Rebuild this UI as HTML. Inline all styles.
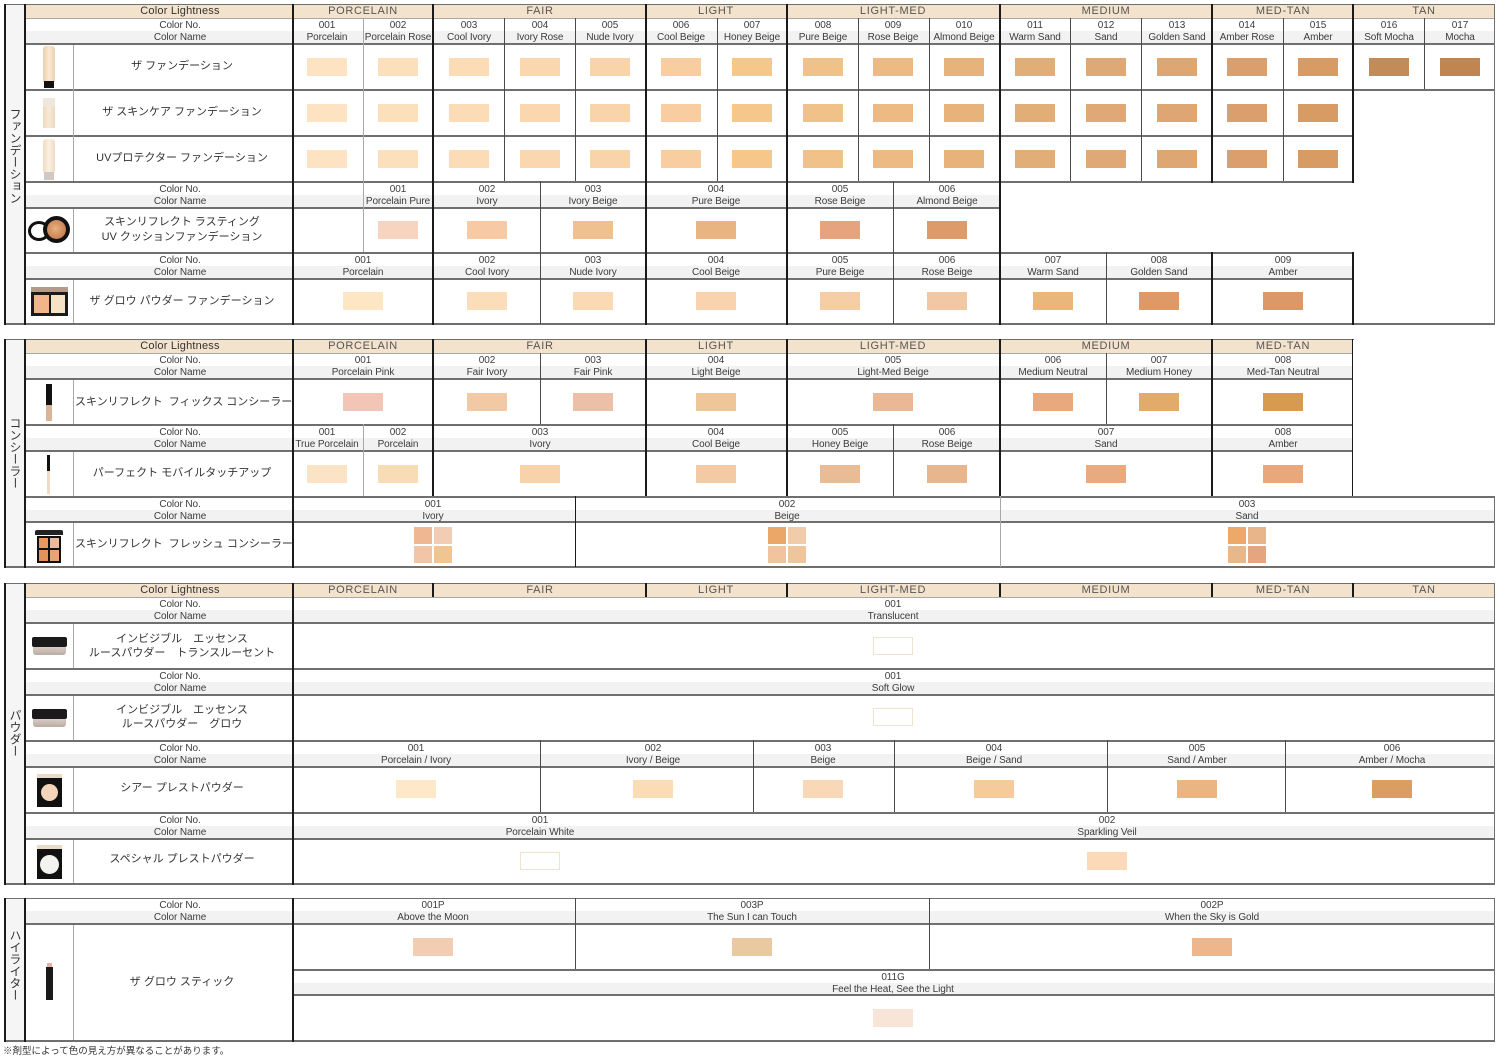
<!DOCTYPE html>
<html><head><meta charset="utf-8"><style>
body{margin:0;background:#fff}
#c{position:relative;width:1500px;height:1063px;overflow:hidden;background:#fff;font-family:"Liberation Sans","Noto Sans CJK JP",sans-serif;color:#333}
#c div{position:absolute}
.k{background:#1a1a1a}.g{background:#6f6f6f}.l{background:#a8a8a8}.d{background:#4a4a4a}
.hb{background:#f4e3cc}.gb{background:#f2f2f2}.cb{background:#f5f5f5}
.t{font-size:10px;line-height:12px;text-align:center;white-space:nowrap;letter-spacing:-0.1px;color:#3c3c3c;transform:translateX(-50%);margin-top:1px}
.h{font-size:11px;line-height:14px;text-align:center;white-space:nowrap;color:#555;letter-spacing:0.7px;transform:translateX(-50%)}
.hc{color:#333;letter-spacing:0.2px}
.p{font-size:11px;line-height:15px;text-align:center;white-space:nowrap;color:#333;left:75px;width:214px}
.s{width:40px;height:18px}
.o{width:40px;height:18px;background:#fff;border:1px solid #f0e2cd;box-sizing:border-box}
.q{width:18px;height:17px}
.v{writing-mode:vertical-rl;font-size:12px;line-height:19px;left:5px;width:19px;text-align:center;color:#333}
</style></head><body><div id="c">

<!-- ================= SECTION 1 ================= -->
<div class="cb" style="left:5px;top:4px;width:20px;height:320px"></div>
<div class="hb" style="left:26px;top:5px;width:1468px;height:13px"></div>
<div class="gb" style="left:26px;top:31px;width:1468px;height:12px"></div>
<div class="gb" style="left:26px;top:195px;width:974px;height:12px"></div>
<div class="gb" style="left:26px;top:266px;width:1327px;height:12px"></div>

<div class="g" style="left:4px;top:4px;width:1491px;height:1px"></div>
<div class="l" style="left:26px;top:18px;width:1468px;height:1px"></div>
<div class="g" style="left:26px;top:43px;width:1468px;height:2px"></div>
<div class="g" style="left:26px;top:89px;width:1468px;height:2px"></div>
<div class="g" style="left:26px;top:135px;width:1327px;height:2px"></div>
<div class="g" style="left:26px;top:181px;width:1327px;height:2px"></div>
<div class="g" style="left:26px;top:207px;width:974px;height:2px"></div>
<div class="g" style="left:26px;top:252px;width:1327px;height:2px"></div>
<div class="g" style="left:26px;top:278px;width:1327px;height:2px"></div>
<div class="g" style="left:4px;top:323px;width:1491px;height:2px"></div>

<div class="k" style="left:4px;top:4px;width:2px;height:321px"></div>
<div class="k" style="left:24px;top:4px;width:2px;height:321px"></div>
<div class="l" style="left:73px;top:45px;width:1px;height:136px"></div>
<div class="l" style="left:73px;top:209px;width:1px;height:43px"></div>
<div class="l" style="left:73px;top:280px;width:1px;height:43px"></div>
<div class="k" style="left:292px;top:4px;width:2px;height:321px"></div>
<div class="k" style="left:432px;top:4px;width:2px;height:321px"></div>
<div class="k" style="left:645px;top:4px;width:2px;height:321px"></div>
<div class="k" style="left:786px;top:4px;width:2px;height:321px"></div>
<div class="k" style="left:999px;top:4px;width:2px;height:321px"></div>
<div class="k" style="left:1211px;top:4px;width:2px;height:179px"></div>
<div class="k" style="left:1211px;top:252px;width:2px;height:73px"></div>
<div class="k" style="left:1352px;top:4px;width:2px;height:179px"></div>
<div class="k" style="left:1352px;top:252px;width:2px;height:73px"></div>
<div class="g" style="left:1494px;top:4px;width:1px;height:321px"></div>
<div class="l" style="left:363px;top:18px;width:1px;height:234px"></div>
<div class="d" style="left:504px;top:18px;width:1px;height:163px"></div>
<div class="d" style="left:575px;top:18px;width:1px;height:163px"></div>
<div class="d" style="left:717px;top:18px;width:1px;height:163px"></div>
<div class="d" style="left:858px;top:18px;width:1px;height:163px"></div>
<div class="d" style="left:929px;top:18px;width:1px;height:163px"></div>
<div class="d" style="left:1070px;top:18px;width:1px;height:163px"></div>
<div class="d" style="left:1141px;top:18px;width:1px;height:163px"></div>
<div class="d" style="left:1283px;top:18px;width:1px;height:163px"></div>
<div class="d" style="left:1424px;top:18px;width:1px;height:71px"></div>
<div class="d" style="left:540px;top:181px;width:1px;height:143px"></div>
<div class="d" style="left:893px;top:181px;width:1px;height:143px"></div>
<div class="d" style="left:1106px;top:252px;width:1px;height:72px"></div>

<div class="v" style="top:100px;height:112px">ファンデーション</div>

<div class="h hc" style="left:180px;top:4px">Color Lightness</div>
<div class="h" style="left:363px;top:4px">PORCELAIN</div>
<div class="h" style="left:540px;top:4px">FAIR</div>
<div class="h" style="left:716px;top:4px">LIGHT</div>
<div class="h" style="left:893px;top:4px">LIGHT-MED</div>
<div class="h" style="left:1106px;top:4px">MEDIUM</div>
<div class="h" style="left:1283px;top:4px">MED-TAN</div>
<div class="h" style="left:1424px;top:4px">TAN</div>

<div class="t" style="left:180px;top:19px">Color No.<br>Color Name</div>
<div class="t" style="left:327px;top:19px">001<br>Porcelain</div>
<div class="t" style="left:398px;top:19px">002<br>Porcelain Rose</div>
<div class="t" style="left:469px;top:19px">003<br>Cool Ivory</div>
<div class="t" style="left:540px;top:19px">004<br>Ivory Rose</div>
<div class="t" style="left:610px;top:19px">005<br>Nude Ivory</div>
<div class="t" style="left:681px;top:19px">006<br>Cool Beige</div>
<div class="t" style="left:752px;top:19px">007<br>Honey Beige</div>
<div class="t" style="left:823px;top:19px">008<br>Pure Beige</div>
<div class="t" style="left:893px;top:19px">009<br>Rose Beige</div>
<div class="t" style="left:964px;top:19px">010<br>Almond Beige</div>
<div class="t" style="left:1035px;top:19px">011<br>Warm Sand</div>
<div class="t" style="left:1106px;top:19px">012<br>Sand</div>
<div class="t" style="left:1177px;top:19px">013<br>Golden Sand</div>
<div class="t" style="left:1247px;top:19px">014<br>Amber Rose</div>
<div class="t" style="left:1318px;top:19px">015<br>Amber</div>
<div class="t" style="left:1389px;top:19px">016<br>Soft Mocha</div>
<div class="t" style="left:1460px;top:19px">017<br>Mocha</div>

<div class="p" style="top:59px">ザ ファンデーション</div>
<div class="p" style="top:105px">ザ スキンケア ファンデーション</div>
<div class="p" style="top:151px">UVプロテクター ファンデーション</div>
<div class="p" style="top:215px">スキンリフレクト ラスティング<br>UV クッションファンデーション</div>
<div class="p" style="top:294px">ザ グロウ パウダー ファンデーション</div>

<!-- swatches row 1 -->
<div class="s" style="left:307px;top:58px;background:#fde3c1"></div>
<div class="s" style="left:378px;top:58px;background:#fcdfbb"></div>
<div class="s" style="left:449px;top:58px;background:#fbdcb6"></div>
<div class="s" style="left:520px;top:58px;background:#fbd7b0"></div>
<div class="s" style="left:590px;top:58px;background:#f9d3aa"></div>
<div class="s" style="left:661px;top:58px;background:#f8cda0"></div>
<div class="s" style="left:732px;top:58px;background:#f6c78a"></div>
<div class="s" style="left:803px;top:58px;background:#f0c189"></div>
<div class="s" style="left:873px;top:58px;background:#ecba82"></div>
<div class="s" style="left:944px;top:58px;background:#e8b37b"></div>
<div class="s" style="left:1015px;top:58px;background:#e2ae77"></div>
<div class="s" style="left:1086px;top:58px;background:#dfa877"></div>
<div class="s" style="left:1157px;top:58px;background:#dda673"></div>
<div class="s" style="left:1227px;top:58px;background:#db9e6d"></div>
<div class="s" style="left:1298px;top:58px;background:#d99b64"></div>
<div class="s" style="left:1369px;top:58px;background:#c38b58"></div>
<div class="s" style="left:1440px;top:58px;background:#c08550"></div>
<!-- row 2 -->
<div class="s" style="left:307px;top:104px;background:#fde3c1"></div>
<div class="s" style="left:378px;top:104px;background:#fcdfbb"></div>
<div class="s" style="left:449px;top:104px;background:#fbdcb6"></div>
<div class="s" style="left:520px;top:104px;background:#fbd7b0"></div>
<div class="s" style="left:590px;top:104px;background:#f9d3aa"></div>
<div class="s" style="left:661px;top:104px;background:#f8cda0"></div>
<div class="s" style="left:732px;top:104px;background:#f6c78a"></div>
<div class="s" style="left:803px;top:104px;background:#f0c189"></div>
<div class="s" style="left:873px;top:104px;background:#ecba82"></div>
<div class="s" style="left:944px;top:104px;background:#e8b37b"></div>
<div class="s" style="left:1015px;top:104px;background:#e2ae77"></div>
<div class="s" style="left:1086px;top:104px;background:#dfa877"></div>
<div class="s" style="left:1157px;top:104px;background:#dda673"></div>
<div class="s" style="left:1227px;top:104px;background:#db9e6d"></div>
<div class="s" style="left:1298px;top:104px;background:#d99b64"></div>
<!-- row 3 -->
<div class="s" style="left:307px;top:150px;background:#fde3c1"></div>
<div class="s" style="left:378px;top:150px;background:#fcdfbb"></div>
<div class="s" style="left:449px;top:150px;background:#fbdcb6"></div>
<div class="s" style="left:520px;top:150px;background:#fbd7b0"></div>
<div class="s" style="left:590px;top:150px;background:#f9d3aa"></div>
<div class="s" style="left:661px;top:150px;background:#f8cda0"></div>
<div class="s" style="left:732px;top:150px;background:#f6c78a"></div>
<div class="s" style="left:803px;top:150px;background:#f0c189"></div>
<div class="s" style="left:873px;top:150px;background:#ecba82"></div>
<div class="s" style="left:944px;top:150px;background:#e8b37b"></div>
<div class="s" style="left:1015px;top:150px;background:#e2ae77"></div>
<div class="s" style="left:1086px;top:150px;background:#dfa877"></div>
<div class="s" style="left:1157px;top:150px;background:#dda673"></div>
<div class="s" style="left:1227px;top:150px;background:#db9e6d"></div>
<div class="s" style="left:1298px;top:150px;background:#d99b64"></div>

<div class="t" style="left:180px;top:183px">Color No.<br>Color Name</div>
<div class="t" style="left:398px;top:183px">001<br>Porcelain Pure</div>
<div class="t" style="left:487px;top:183px">002<br>Ivory</div>
<div class="t" style="left:593px;top:183px">003<br>Ivory Beige</div>
<div class="t" style="left:716px;top:183px">004<br>Pure Beige</div>
<div class="t" style="left:840px;top:183px">005<br>Rose Beige</div>
<div class="t" style="left:947px;top:183px">006<br>Almond Beige</div>

<div class="s" style="left:378px;top:221px;background:#f6d4c0"></div>
<div class="s" style="left:467px;top:221px;background:#f7c9a4"></div>
<div class="s" style="left:573px;top:221px;background:#f0c190"></div>
<div class="s" style="left:696px;top:221px;background:#e8b582"></div>
<div class="s" style="left:820px;top:221px;background:#e5a47f"></div>
<div class="s" style="left:927px;top:221px;background:#dd9a6b"></div>

<div class="t" style="left:180px;top:254px">Color No.<br>Color Name</div>
<div class="t" style="left:363px;top:254px">001<br>Porcelain</div>
<div class="t" style="left:487px;top:254px">002<br>Cool Ivory</div>
<div class="t" style="left:593px;top:254px">003<br>Nude Ivory</div>
<div class="t" style="left:716px;top:254px">004<br>Cool Beige</div>
<div class="t" style="left:840px;top:254px">005<br>Pure Beige</div>
<div class="t" style="left:947px;top:254px">006<br>Rose Beige</div>
<div class="t" style="left:1053px;top:254px">007<br>Warm Sand</div>
<div class="t" style="left:1159px;top:254px">008<br>Golden Sand</div>
<div class="t" style="left:1283px;top:254px">009<br>Amber</div>

<div class="s" style="left:343px;top:292px;background:#fde6c3"></div>
<div class="s" style="left:467px;top:292px;background:#fbddb9"></div>
<div class="s" style="left:573px;top:292px;background:#fadab5"></div>
<div class="s" style="left:696px;top:292px;background:#f8d3ad"></div>
<div class="s" style="left:820px;top:292px;background:#f6cea5"></div>
<div class="s" style="left:927px;top:292px;background:#f2c8a4"></div>
<div class="s" style="left:1033px;top:292px;background:#e9b77c"></div>
<div class="s" style="left:1139px;top:292px;background:#dd9a66"></div>
<div class="s" style="left:1263px;top:292px;background:#db9868"></div>

<!-- product images S1 -->
<div style="left:43px;top:46px;width:12px;height:36px;background:linear-gradient(90deg,#e9cfae,#fbe8d0 50%,#ead2b2);border-radius:3px 3px 0 0"></div>
<div style="left:44px;top:81px;width:10px;height:7px;background:#111"></div>
<div style="left:43px;top:98px;width:12px;height:9px;background:#efe7dc"></div>
<div style="left:43px;top:107px;width:12px;height:21px;background:linear-gradient(90deg,#ecd8bd,#f8ead8,#ecd8bd)"></div>
<div style="left:43px;top:139px;width:12px;height:33px;background:linear-gradient(90deg,#efdcc2,#fbf0e2,#efdcc2);border-radius:3px 3px 0 0"></div>
<div style="left:44px;top:172px;width:10px;height:8px;background:#cfc9c2"></div>
<div style="left:28px;top:221px;width:22px;height:20px;background:#fff;border:3px solid #111;border-radius:50%;box-sizing:border-box"></div>
<div style="left:43px;top:216px;width:27px;height:27px;background:#111;border-radius:50%"></div>
<div style="left:47px;top:220px;width:19px;height:19px;background:radial-gradient(circle at 45% 45%,#eab07e,#b56e44);border-radius:50%"></div>
<div style="left:31px;top:287px;width:37px;height:5px;background:#b49a88"></div>
<div style="left:31px;top:292px;width:37px;height:24px;background:#1a1a1a"></div>
<div style="left:34px;top:295px;width:15px;height:18px;background:#f2b589"></div>
<div style="left:51px;top:295px;width:14px;height:18px;background:#f6e3c6"></div>

<!-- ================= SECTION 2 ================= -->
<div class="cb" style="left:5px;top:339px;width:20px;height:228px"></div>
<div class="hb" style="left:26px;top:340px;width:1327px;height:13px"></div>
<div class="gb" style="left:26px;top:366px;width:1327px;height:12px"></div>
<div class="gb" style="left:26px;top:438px;width:1327px;height:12px"></div>
<div class="gb" style="left:26px;top:510px;width:1468px;height:11px"></div>

<div class="g" style="left:4px;top:339px;width:1350px;height:1px"></div>
<div class="l" style="left:26px;top:353px;width:1327px;height:1px"></div>
<div class="g" style="left:26px;top:378px;width:1327px;height:2px"></div>
<div class="g" style="left:26px;top:424px;width:1327px;height:2px"></div>
<div class="g" style="left:26px;top:450px;width:1327px;height:2px"></div>
<div class="g" style="left:26px;top:496px;width:1469px;height:2px"></div>
<div class="g" style="left:26px;top:521px;width:1469px;height:2px"></div>
<div class="g" style="left:4px;top:566px;width:1491px;height:2px"></div>

<div class="k" style="left:4px;top:339px;width:2px;height:229px"></div>
<div class="k" style="left:24px;top:339px;width:2px;height:229px"></div>
<div class="l" style="left:73px;top:380px;width:1px;height:44px"></div>
<div class="l" style="left:73px;top:452px;width:1px;height:44px"></div>
<div class="l" style="left:73px;top:523px;width:1px;height:43px"></div>
<div class="k" style="left:292px;top:339px;width:2px;height:229px"></div>
<div class="k" style="left:432px;top:339px;width:2px;height:157px"></div>
<div class="k" style="left:645px;top:339px;width:2px;height:157px"></div>
<div class="k" style="left:786px;top:339px;width:2px;height:157px"></div>
<div class="k" style="left:999px;top:339px;width:2px;height:157px"></div>
<div class="k" style="left:1211px;top:339px;width:2px;height:157px"></div>
<div class="k" style="left:1352px;top:339px;width:1px;height:157px"></div>
<div class="d" style="left:540px;top:353px;width:1px;height:71px"></div>
<div class="d" style="left:1106px;top:353px;width:1px;height:71px"></div>
<div class="l" style="left:363px;top:424px;width:1px;height:72px"></div>
<div class="d" style="left:893px;top:424px;width:1px;height:72px"></div>
<div class="k" style="left:575px;top:496px;width:1px;height:71px"></div>
<div class="l" style="left:1000px;top:496px;width:1px;height:71px"></div>
<div class="g" style="left:1494px;top:496px;width:1px;height:71px"></div>

<div class="v" style="top:400px;height:106px">コンシーラー</div>

<div class="h hc" style="left:180px;top:339px">Color Lightness</div>
<div class="h" style="left:363px;top:339px">PORCELAIN</div>
<div class="h" style="left:540px;top:339px">FAIR</div>
<div class="h" style="left:716px;top:339px">LIGHT</div>
<div class="h" style="left:893px;top:339px">LIGHT-MED</div>
<div class="h" style="left:1106px;top:339px">MEDIUM</div>
<div class="h" style="left:1283px;top:339px">MED-TAN</div>

<div class="t" style="left:180px;top:354px">Color No.<br>Color Name</div>
<div class="t" style="left:363px;top:354px">001<br>Porcelain Pink</div>
<div class="t" style="left:487px;top:354px">002<br>Fair Ivory</div>
<div class="t" style="left:593px;top:354px">003<br>Fair Pink</div>
<div class="t" style="left:716px;top:354px">004<br>Light Beige</div>
<div class="t" style="left:893px;top:354px">005<br>Light-Med Beige</div>
<div class="t" style="left:1053px;top:354px">006<br>Medium Neutral</div>
<div class="t" style="left:1159px;top:354px">007<br>Medium Honey</div>
<div class="t" style="left:1283px;top:354px">008<br>Med-Tan Neutral</div>

<div class="s" style="left:343px;top:393px;background:#f3c5b6"></div>
<div class="s" style="left:467px;top:393px;background:#f2c9a5"></div>
<div class="s" style="left:573px;top:393px;background:#ecc0a7"></div>
<div class="s" style="left:696px;top:393px;background:#efc697"></div>
<div class="s" style="left:873px;top:393px;background:#ebb897"></div>
<div class="s" style="left:1033px;top:393px;background:#e8aa7c"></div>
<div class="s" style="left:1139px;top:393px;background:#e2aa6b"></div>
<div class="s" style="left:1263px;top:393px;background:#d79a51"></div>

<div class="t" style="left:180px;top:426px">Color No.<br>Color Name</div>
<div class="t" style="left:327px;top:426px">001<br>True Porcelain</div>
<div class="t" style="left:398px;top:426px">002<br>Porcelain</div>
<div class="t" style="left:540px;top:426px">003<br>Ivory</div>
<div class="t" style="left:716px;top:426px">004<br>Cool Beige</div>
<div class="t" style="left:840px;top:426px">005<br>Honey Beige</div>
<div class="t" style="left:947px;top:426px">006<br>Rose Beige</div>
<div class="t" style="left:1106px;top:426px">007<br>Sand</div>
<div class="t" style="left:1283px;top:426px">008<br>Amber</div>

<div class="s" style="left:307px;top:465px;background:#fbe3c6"></div>
<div class="s" style="left:378px;top:465px;background:#f8dcb5"></div>
<div class="s" style="left:520px;top:465px;background:#f8d3a9"></div>
<div class="s" style="left:696px;top:465px;background:#f3caa3"></div>
<div class="s" style="left:820px;top:465px;background:#e9bc95"></div>
<div class="s" style="left:927px;top:465px;background:#e8b68c"></div>
<div class="s" style="left:1086px;top:465px;background:#eaaa7f"></div>
<div class="s" style="left:1263px;top:465px;background:#e9a77c"></div>

<div class="t" style="left:180px;top:498px">Color No.<br>Color Name</div>
<div class="t" style="left:433px;top:498px">001<br>Ivory</div>
<div class="t" style="left:787px;top:498px">002<br>Beige</div>
<div class="t" style="left:1247px;top:498px">003<br>Sand</div>

<div class="q" style="left:414px;top:527px;background:#efb893"></div>
<div class="q" style="left:434px;top:527px;background:#f2cdb3"></div>
<div class="q" style="left:414px;top:546px;background:#f2c5a6"></div>
<div class="q" style="left:434px;top:546px;background:#f2c590"></div>
<div class="q" style="left:768px;top:527px;background:#eba767"></div>
<div class="q" style="left:788px;top:527px;background:#f1ccaa"></div>
<div class="q" style="left:768px;top:546px;background:#f1c49b"></div>
<div class="q" style="left:788px;top:546px;background:#efc59c"></div>
<div class="q" style="left:1228px;top:527px;background:#eca967"></div>
<div class="q" style="left:1248px;top:527px;background:#e8b48a"></div>
<div class="q" style="left:1228px;top:546px;background:#e8b78a"></div>
<div class="q" style="left:1248px;top:546px;background:#e5a67f"></div>

<div class="p" style="top:395px">スキンリフレクト&nbsp; フィックス コンシーラー</div>
<div class="p" style="top:466px">パーフェクト モバイルタッチアップ</div>
<div class="p" style="top:537px">スキンリフレクト&nbsp; フレッシュ コンシーラー</div>

<div style="left:46px;top:384px;width:6px;height:21px;background:#111"></div>
<div style="left:46px;top:405px;width:6px;height:16px;background:#d9b497"></div>
<div style="left:47px;top:455px;width:3px;height:16px;background:#111"></div>
<div style="left:47px;top:471px;width:3px;height:23px;background:#f1dac6"></div>
<div style="left:35px;top:530px;width:28px;height:5px;background:#222;border-radius:2px 2px 0 0"></div>
<div style="left:37px;top:536px;width:24px;height:27px;background:#111"></div>
<div style="left:39px;top:538px;width:9px;height:10px;background:#e69a62"></div>
<div style="left:50px;top:538px;width:9px;height:10px;background:#efb89a"></div>
<div style="left:39px;top:550px;width:9px;height:11px;background:#e4915a"></div>
<div style="left:50px;top:550px;width:9px;height:11px;background:#e9a272"></div>

<!-- ================= SECTION 3 ================= -->
<div class="cb" style="left:5px;top:583px;width:20px;height:300px"></div>
<div class="hb" style="left:26px;top:584px;width:1468px;height:13px"></div>
<div class="gb" style="left:26px;top:610px;width:1468px;height:12px"></div>
<div class="gb" style="left:26px;top:682px;width:1468px;height:12px"></div>
<div class="gb" style="left:26px;top:754px;width:1468px;height:12px"></div>
<div class="gb" style="left:26px;top:826px;width:1468px;height:12px"></div>

<div class="g" style="left:4px;top:583px;width:1491px;height:1px"></div>
<div class="l" style="left:26px;top:597px;width:1468px;height:1px"></div>
<div class="g" style="left:26px;top:622px;width:1469px;height:2px"></div>
<div class="g" style="left:26px;top:668px;width:1469px;height:2px"></div>
<div class="g" style="left:26px;top:694px;width:1469px;height:2px"></div>
<div class="g" style="left:26px;top:740px;width:1469px;height:2px"></div>
<div class="g" style="left:26px;top:766px;width:1469px;height:2px"></div>
<div class="g" style="left:26px;top:812px;width:1469px;height:2px"></div>
<div class="g" style="left:26px;top:838px;width:1469px;height:2px"></div>
<div class="g" style="left:4px;top:883px;width:1491px;height:2px"></div>

<div class="k" style="left:4px;top:583px;width:2px;height:302px"></div>
<div class="k" style="left:24px;top:583px;width:2px;height:302px"></div>
<div class="l" style="left:73px;top:624px;width:1px;height:44px"></div>
<div class="l" style="left:73px;top:696px;width:1px;height:44px"></div>
<div class="l" style="left:73px;top:768px;width:1px;height:44px"></div>
<div class="l" style="left:73px;top:840px;width:1px;height:43px"></div>
<div class="k" style="left:292px;top:583px;width:2px;height:302px"></div>
<div class="k" style="left:432px;top:583px;width:2px;height:14px"></div>
<div class="k" style="left:645px;top:583px;width:2px;height:14px"></div>
<div class="k" style="left:786px;top:583px;width:2px;height:14px"></div>
<div class="k" style="left:999px;top:583px;width:2px;height:14px"></div>
<div class="k" style="left:1211px;top:583px;width:2px;height:14px"></div>
<div class="k" style="left:1352px;top:583px;width:2px;height:14px"></div>
<div class="g" style="left:1494px;top:583px;width:1px;height:302px"></div>
<div class="d" style="left:540px;top:740px;width:1px;height:72px"></div>
<div class="d" style="left:753px;top:740px;width:1px;height:72px"></div>
<div class="d" style="left:894px;top:740px;width:1px;height:72px"></div>
<div class="d" style="left:1107px;top:740px;width:1px;height:72px"></div>
<div class="d" style="left:1285px;top:740px;width:1px;height:72px"></div>

<div class="v" style="top:690px;height:86px">パウダー</div>

<div class="h hc" style="left:180px;top:583px">Color Lightness</div>
<div class="h" style="left:363px;top:583px">PORCELAIN</div>
<div class="h" style="left:540px;top:583px">FAIR</div>
<div class="h" style="left:716px;top:583px">LIGHT</div>
<div class="h" style="left:893px;top:583px">LIGHT-MED</div>
<div class="h" style="left:1106px;top:583px">MEDIUM</div>
<div class="h" style="left:1283px;top:583px">MED-TAN</div>
<div class="h" style="left:1424px;top:583px">TAN</div>

<div class="t" style="left:180px;top:598px">Color No.<br>Color Name</div>
<div class="t" style="left:893px;top:598px">001<br>Translucent</div>
<div class="o" style="left:873px;top:637px"></div>
<div class="t" style="left:180px;top:670px">Color No.<br>Color Name</div>
<div class="t" style="left:893px;top:670px">001<br>Soft Glow</div>
<div class="o" style="left:873px;top:708px"></div>

<div class="t" style="left:180px;top:742px">Color No.<br>Color Name</div>
<div class="t" style="left:416px;top:742px">001<br>Porcelain / Ivory</div>
<div class="t" style="left:653px;top:742px">002<br>Ivory / Beige</div>
<div class="t" style="left:823px;top:742px">003<br>Beige</div>
<div class="t" style="left:994px;top:742px">004<br>Beige / Sand</div>
<div class="t" style="left:1197px;top:742px">005<br>Sand / Amber</div>
<div class="t" style="left:1392px;top:742px">006<br>Amber / Mocha</div>
<div class="s" style="left:396px;top:780px;background:#fde8c7"></div>
<div class="s" style="left:633px;top:780px;background:#fbddb5"></div>
<div class="s" style="left:803px;top:780px;background:#f9d8b7"></div>
<div class="s" style="left:974px;top:780px;background:#f5cb9d"></div>
<div class="s" style="left:1177px;top:780px;background:#e9b583"></div>
<div class="s" style="left:1372px;top:780px;background:#da9e63"></div>

<div class="t" style="left:180px;top:814px">Color No.<br>Color Name</div>
<div class="t" style="left:540px;top:814px">001<br>Porcelain White</div>
<div class="t" style="left:1107px;top:814px">002<br>Sparkling Veil</div>
<div class="o" style="left:520px;top:852px"></div>
<div class="s" style="left:1087px;top:852px;background:#fcdab9"></div>

<div class="p" style="top:632px;line-height:14px">インビジブル　エッセンス<br>ルースパウダー　トランスルーセント</div>
<div class="p" style="top:703px;line-height:14px">インビジブル　エッセンス<br>ルースパウダー　グロウ</div>
<div class="p" style="top:781px">シアー プレストパウダー</div>
<div class="p" style="top:852px">スペシャル プレストパウダー</div>

<div style="left:32px;top:637px;width:35px;height:10px;background:#1a1a1a;border-radius:2px"></div>
<div style="left:33px;top:647px;width:33px;height:8px;background:linear-gradient(#d8ccc4,#b9aca4);border-radius:0 0 3px 3px"></div>
<div style="left:32px;top:709px;width:35px;height:10px;background:#1a1a1a;border-radius:2px"></div>
<div style="left:33px;top:719px;width:33px;height:8px;background:linear-gradient(#d8ccc4,#b9aca4);border-radius:0 0 3px 3px"></div>
<div style="left:37px;top:774px;width:25px;height:4px;background:#eadbc8"></div>
<div style="left:37px;top:778px;width:25px;height:29px;background:#111"></div>
<div style="left:41px;top:784px;width:17px;height:17px;background:#f3d6ba;border-radius:50%"></div>
<div style="left:37px;top:845px;width:25px;height:4px;background:#eadbc8"></div>
<div style="left:37px;top:849px;width:25px;height:30px;background:#111"></div>
<div style="left:40px;top:855px;width:19px;height:19px;background:#f4f3ef;border-radius:50%"></div>

<!-- ================= SECTION 4 ================= -->
<div class="cb" style="left:5px;top:898px;width:20px;height:142px"></div>
<div class="gb" style="left:26px;top:911px;width:1468px;height:12px"></div>
<div class="gb" style="left:294px;top:983px;width:1200px;height:11px"></div>

<div class="g" style="left:4px;top:898px;width:1491px;height:1px"></div>
<div class="g" style="left:26px;top:923px;width:1469px;height:2px"></div>
<div class="g" style="left:294px;top:969px;width:1201px;height:2px"></div>
<div class="g" style="left:294px;top:994px;width:1201px;height:2px"></div>
<div class="g" style="left:4px;top:1040px;width:1491px;height:2px"></div>

<div class="k" style="left:4px;top:898px;width:2px;height:144px"></div>
<div class="k" style="left:24px;top:898px;width:2px;height:144px"></div>
<div class="l" style="left:73px;top:925px;width:1px;height:115px"></div>
<div class="k" style="left:292px;top:898px;width:2px;height:144px"></div>
<div class="d" style="left:575px;top:898px;width:1px;height:71px"></div>
<div class="d" style="left:929px;top:898px;width:1px;height:71px"></div>
<div class="g" style="left:1494px;top:898px;width:1px;height:144px"></div>

<div class="v" style="top:915px;height:100px">ハイライター</div>

<div class="t" style="left:180px;top:899px">Color No.<br>Color Name</div>
<div class="t" style="left:433px;top:899px">001P<br>Above the Moon</div>
<div class="t" style="left:752px;top:899px">003P<br>The Sun I can Touch</div>
<div class="t" style="left:1212px;top:899px">002P<br>When the Sky is Gold</div>
<div class="s" style="left:413px;top:938px;background:#f2cdb1"></div>
<div class="s" style="left:732px;top:938px;background:#eac8a0"></div>
<div class="s" style="left:1192px;top:938px;background:#eeb68a"></div>
<div class="t" style="left:893px;top:971px">011G<br>Feel the Heat, See the Light</div>
<div class="s" style="left:873px;top:1009px;background:#f9e5d7"></div>

<div class="p" style="top:975px">ザ グロウ スティック</div>
<div style="left:47px;top:963px;width:5px;height:4px;background:#e6b3a6"></div>
<div style="left:46px;top:967px;width:7px;height:33px;background:#1a1a1a"></div>

<div style="left:3px;top:1046px;font-size:9.5px;line-height:12px;color:#333;white-space:nowrap">※剤型によって色の見え方が異なることがあります。</div>

</div></body></html>
